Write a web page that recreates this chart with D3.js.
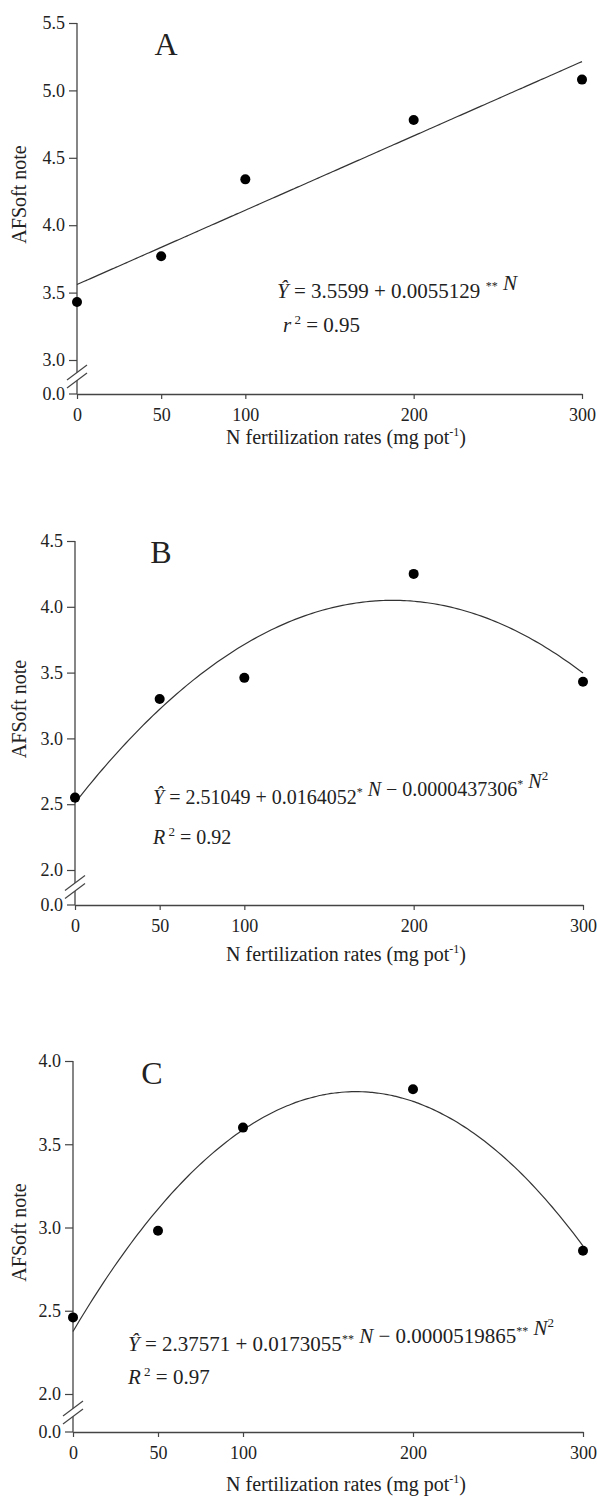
<!DOCTYPE html>
<html>
<head>
<meta charset="utf-8">
<script src="https://cdn.jsdelivr.net/npm/d3@7"></script>
<style>
  body { margin: 0; background: #fff; }
  svg text { font-family: "Liberation Serif", "Times New Roman", serif; fill: #222; }
</style>
</head>
<body>
<div id="chart"></div>
<script>
// N rates (mg pot-1) and AFSoft note means
var nRates = [0, 50, 100, 200, 300];
var xTicks = [0, 50, 100, 200, 300];

var afsA = [3.43, 3.77, 4.34, 4.78, 5.08];
var afsB = [2.55, 3.30, 3.46, 4.25, 3.43];
var afsC = [2.46, 2.98, 3.60, 3.83, 2.86];

// fitted model coefficients b0, b1, b2 (from the printed equations)
var coefA = [3.5599, 0.0055129, 0];
var coefB = [2.51049, 0.0164052, -0.0000437306];
var coefC = [2.37571, 0.0173055, -0.0000519865];

var yTicksA = [3.0, 3.5, 4.0, 4.5, 5.0, 5.5];
var yTicksB = [2.0, 2.5, 3.0, 3.5, 4.0, 4.5];
var yTicksC = [2.0, 2.5, 3.0, 3.5, 4.0];

var letters = ['A', 'B', 'C'];

// layout of each panel (pixels)
var panels = [
  { letter: letters[0], vals: afsA, coef: coefA, ticks: yTicksA,
    x0: 77, x1: 582, yTop: 23, yLow: 360, yBase: 394, titleOff: 50,
    eq: { x: 277, y: 298, fs: 21, gap: 34, parts: ['3.5599 + 0.0055129 ', '**', ' N'], sq: false, stat: 'r', r2: '0.95', indent: 6 },
    ltr: { x: 166, y: 55 } },
  { letter: letters[1], vals: afsB, coef: coefB, ticks: yTicksB,
    x0: 75, x1: 583, yTop: 541, yLow: 870, yBase: 905, titleOff: 56,
    eq: { x: 153, y: 804, fs: 20, gap: 40, parts: ['2.51049 + 0.0164052', '*', ' N − 0.0000437306', '*', ' N'], sq: true, stat: 'R', r2: '0.92', indent: 0 },
    ltr: { x: 161, y: 563 } },
  { letter: letters[2], vals: afsC, coef: coefC, ticks: yTicksC,
    x0: 73, x1: 583, yTop: 1061, yLow: 1394, yBase: 1432, titleOff: 59,
    eq: { x: 128, y: 1351, fs: 21, gap: 33, parts: ['2.37571 + 0.0173055', '**', ' N − 0.0000519865', '**', ' N'], sq: true, stat: 'R', r2: '0.97', indent: 0 },
    ltr: { x: 152, y: 1084 } }
];

var svg = d3.select('#chart').append('svg')
  .attr('width', 597)
  .attr('height', 1497);

var axisColor = '#444';

panels.forEach(function(p) {
  var g = svg.append('g');

  var x = d3.scaleLinear().domain([0, 300]).range([p.x0, p.x1]);
  var y = d3.scaleLinear()
    .domain([p.ticks[0], p.ticks[p.ticks.length - 1]])
    .range([p.yLow, p.yTop]);

  // x axis
  var xAxis = d3.axisBottom(x)
    .tickValues(xTicks)
    .tickSize(5)
    .tickSizeOuter(0)
    .tickPadding(9);
  var gx = g.append('g')
    .attr('transform', 'translate(0,' + p.yBase + ')')
    .call(xAxis);
  gx.select('.domain').attr('stroke', axisColor).attr('stroke-width', 1.3);
  gx.selectAll('.tick line').attr('stroke', axisColor).attr('stroke-width', 1.2);
  gx.selectAll('.tick text')
    .style('font-family', '"Liberation Serif", serif')
    .style('font-size', '18px')
    .attr('fill', '#222');

  // y axis (ticks only, line drawn by hand because of the break)
  var yAxis = d3.axisLeft(y)
    .tickValues(p.ticks)
    .tickFormat(d3.format('.1f'))
    .tickSize(8)
    .tickSizeOuter(0)
    .tickPadding(4);
  var gy = g.append('g')
    .attr('transform', 'translate(' + p.x0 + ',0)')
    .call(yAxis);
  gy.select('.domain').remove();
  gy.selectAll('.tick line').attr('stroke', axisColor).attr('stroke-width', 1.2);
  gy.selectAll('.tick text')
    .style('font-family', '"Liberation Serif", serif')
    .style('font-size', '18px')
    .attr('fill', '#222');

  // 0.0 tick at the origin
  g.append('line')
    .attr('x1', p.x0 - 8).attr('x2', p.x0)
    .attr('y1', p.yBase).attr('y2', p.yBase)
    .attr('stroke', axisColor).attr('stroke-width', 1.2);
  g.append('text')
    .attr('x', p.x0 - 12).attr('y', p.yBase)
    .attr('dy', '0.32em')
    .attr('text-anchor', 'end')
    .style('font-size', '18px')
    .text('0.0');

  g.append('line')
    .attr('x1', p.x0).attr('x2', p.x0)
    .attr('y1', p.yTop).attr('y2', p.yBase)
    .attr('stroke', axisColor).attr('stroke-width', 1.3);

  // axis break
  var bm = (p.yLow + p.yBase) / 2;
  g.append('polygon')
    .attr('points', [
      [p.x0 - 10, bm + 11], [p.x0 + 10, bm - 4],
      [p.x0 + 10, bm - 12], [p.x0 - 10, bm + 3]
    ].map(function(d) { return d.join(','); }).join(' '))
    .attr('fill', '#fff');
  [-4, 4].forEach(function(o) {
    g.append('line')
      .attr('x1', p.x0 - 10).attr('y1', bm + 7 + o)
      .attr('x2', p.x0 + 10).attr('y2', bm - 8 + o)
      .attr('stroke', axisColor).attr('stroke-width', 1.2);
  });

  // fitted curve
  var grid = d3.range(0, 301, 2);
  var line = d3.line()
    .x(function(n) { return x(n); })
    .y(function(n) { return y(p.coef[0] + p.coef[1] * n + p.coef[2] * n * n); })
    .curve(d3.curveMonotoneX);
  g.append('path')
    .datum(grid)
    .attr('d', line)
    .attr('fill', 'none')
    .attr('stroke', '#333')
    .attr('stroke-width', 1.2);

  // points
  g.selectAll('circle.pt')
    .data(nRates)
    .enter()
    .append('circle')
    .attr('class', 'pt')
    .attr('cx', function(n) { return x(n); })
    .attr('cy', function(n, i) { return y(p.vals[i]); })
    .attr('r', 5)
    .attr('fill', '#000');

  // panel letter
  g.append('text')
    .attr('x', p.ltr.x).attr('y', p.ltr.y)
    .attr('text-anchor', 'middle')
    .style('font-size', '32px')
    .text(p.letter);

  // y label
  g.append('text')
    .attr('transform', 'translate(26,' + ((p.yTop + p.yBase) / 2 - 14) + ') rotate(-90)')
    .attr('text-anchor', 'middle')
    .style('font-size', '20px')
    .text('AFSoft note');

  // x label
  var xl = g.append('text')
    .attr('x', 346)
    .attr('y', p.yBase + p.titleOff)
    .attr('text-anchor', 'middle')
    .style('font-size', '20px');
  xl.append('tspan').text('N fertilization rates (mg pot');
  xl.append('tspan').attr('dy', -8).style('font-size', '12px').text('-1');
  xl.append('tspan').attr('dy', 8).text(')');

  // equation
  var fs = p.eq.fs;
  var eq = g.append('text')
    .attr('x', p.eq.x).attr('y', p.eq.y)
    .style('font-size', fs + 'px');
  eq.append('tspan').style('font-style', 'italic').text('Ŷ');
  eq.append('tspan').text(' = ');
  p.eq.parts.forEach(function(s, i) {
    if (i % 2 === 1) {
      eq.append('tspan').attr('dy', -8).style('font-size', '12px').text(s);
      eq.append('tspan').attr('dy', 8).text('');
    } else {
      var m = s.split('N');
      m.forEach(function(seg, j) {
        if (j > 0) eq.append('tspan').style('font-style', 'italic').text('N');
        if (seg) eq.append('tspan').text(seg);
      });
    }
  });
  if (p.eq.sq) {
    eq.append('tspan').attr('dy', -8).style('font-size', '13px').text('2');
  }

  var r2 = g.append('text')
    .attr('x', p.eq.x + p.eq.indent).attr('y', p.eq.y + p.eq.gap)
    .style('font-size', fs + 'px');
  r2.append('tspan').style('font-style', 'italic').text(p.eq.stat);
  r2.append('tspan').attr('dy', -8).style('font-size', '13px').text(' 2');
  r2.append('tspan').attr('dy', 8).text(' = ' + p.eq.r2);
});
</script>
</body>
</html>
